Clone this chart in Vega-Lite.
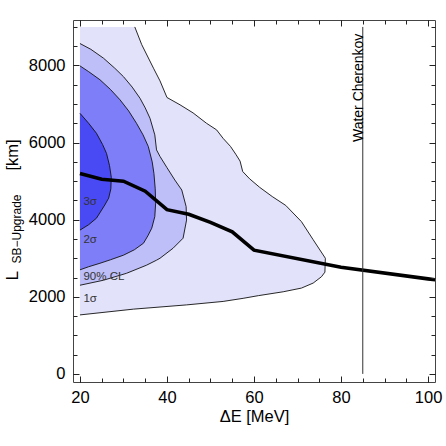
{
  "$schema": "https://vega.github.io/schema/vega-lite/v6.json",
  "width": 362,
  "height": 362,
  "autosize": "none",
  "padding": {"left": 73, "top": 20, "right": 11, "bottom": 64},
  "config": {
    "view": {"stroke": "#444", "strokeWidth": 1},
    "font": "Liberation Sans",
    "axis": {"grid": false, "domain": false, "labelColor": "#000", "titleColor": "#000", "tickColor": "#222", "tickWidth": 1, "titleFontWeight": "normal", "labelFont": "Liberation Sans", "titleFont": "Liberation Sans"}
  },
  "datasets": {
    "s1": [{"x":20,"y":1530},{"x":32.3,"y":1680},{"x":44.5,"y":1790},{"x":52.9,"y":1880},{"x":57.5,"y":1960},{"x":61,"y":2030},{"x":66.7,"y":2130},{"x":70.9,"y":2226},{"x":73.6,"y":2356},{"x":75.5,"y":2520},{"x":76.3,"y":2640},{"x":76.4,"y":3000},{"x":73.6,"y":3480},{"x":70.9,"y":3950},{"x":67.3,"y":4370},{"x":64.2,"y":4600},{"x":61.3,"y":4840},{"x":59,"y":5060},{"x":57.4,"y":5250},{"x":56.8,"y":5520},{"x":55.8,"y":5700},{"x":54.6,"y":5900},{"x":52.9,"y":6110},{"x":51.4,"y":6330},{"x":49.1,"y":6500},{"x":46,"y":6770},{"x":43,"y":6980},{"x":40,"y":7170},{"x":38.4,"y":7600},{"x":36.9,"y":7930},{"x":34.2,"y":8540},{"x":32.6,"y":9000}],
    "c90": [{"x":20,"y":2300},{"x":25.4,"y":2430},{"x":30.7,"y":2610},{"x":35.3,"y":2820},{"x":37.6,"y":2950},{"x":38.4,"y":3000},{"x":41.4,"y":3260},{"x":43.7,"y":3520},{"x":44.5,"y":3990},{"x":44.4,"y":4340},{"x":43.4,"y":4770},{"x":41.8,"y":5030},{"x":40,"y":5350},{"x":38.4,"y":5640},{"x":37.6,"y":5810},{"x":37.2,"y":6200},{"x":36.1,"y":6630},{"x":35,"y":6900},{"x":33.8,"y":7150},{"x":32,"y":7440},{"x":30,"y":7710},{"x":28,"y":7930},{"x":25.4,"y":8190},{"x":22.5,"y":8420},{"x":20,"y":8570}],
    "s2": [{"x":20,"y":2700},{"x":22,"y":2780},{"x":24.6,"y":2870},{"x":27,"y":2960},{"x":30,"y":3080},{"x":32.5,"y":3220},{"x":34.6,"y":3390},{"x":35.6,"y":3580},{"x":36.5,"y":3780},{"x":37.2,"y":4080},{"x":37.4,"y":4430},{"x":37.3,"y":4800},{"x":37,"y":5200},{"x":36.6,"y":5500},{"x":35.7,"y":5900},{"x":34.5,"y":6200},{"x":33,"y":6500},{"x":31.2,"y":6820},{"x":29.2,"y":7110},{"x":27,"y":7380},{"x":24.6,"y":7630},{"x":22,"y":7840},{"x":20,"y":7990}],
    "s3": [{"x":20,"y":3730},{"x":22,"y":3870},{"x":23.8,"y":4040},{"x":25.7,"y":4380},{"x":26.6,"y":4560},{"x":27.1,"y":4800},{"x":27.2,"y":5100},{"x":26.8,"y":5400},{"x":26.1,"y":5720},{"x":25.2,"y":5950},{"x":23.8,"y":6240},{"x":22,"y":6500},{"x":20,"y":6760}],
    "curve": [{"x":20,"y":5200},{"x":25,"y":5050},{"x":30,"y":5000},{"x":35,"y":4740},{"x":40,"y":4260},{"x":45,"y":4140},{"x":50,"y":3930},{"x":55,"y":3685},{"x":60,"y":3210},{"x":80,"y":2765},{"x":100,"y":2465},{"x":102,"y":2435}],
    "labels": [{"x":20.8,"y":4470,"t":"3σ"},{"x":20.8,"y":3480,"t":"2σ"},{"x":20.8,"y":2520,"t":"90% CL"},{"x":20.8,"y":1930,"t":"1σ"}]
  },
  "resolve": {"axis": {"x": "independent", "y": "independent"}},
  "layer": [
    {
      "data": {"name": "s1"},
      "mark": {"type": "area", "orient": "horizontal", "color": "#e2e2fb"},
      "encoding": {
        "y": {"field": "y", "type": "quantitative", "scale": {"domain": [-210, 9180], "nice": false, "zero": false},
              "axis": {"orient": "left", "zindex": 3, "values": [0, 2000, 4000, 6000, 8000], "format": "d", "ticks": false, "labelFontSize": 16.5, "labelPadding": 8, "title": "L", "titleFontSize": 17, "titleAngle": -90, "titleX": -56, "titleY": 260, "titleAlign": "left", "titleBaseline": "alphabetic"}},
        "x": {"field": "x", "type": "quantitative", "stack": null, "scale": {"domain": [18.4, 101.6], "nice": false, "zero": false},
              "axis": {"orient": "bottom", "zindex": 3, "values": [20, 40, 60, 80, 100], "format": "d", "ticks": false, "labelFontSize": 16.5, "labelBaseline": "alphabetic", "labelPadding": 20, "title": "ΔE [MeV]", "titleFontSize": 16.5, "titleX": 181, "titleY": 39, "titleAlign": "center", "titleBaseline": "alphabetic"}},
        "x2": {"datum": 20}
      }
    },
    {
      "data": {"name": "c90"},
      "mark": {"type": "area", "orient": "horizontal", "color": "#bebef8"},
      "encoding": {
        "y": {"field": "y", "type": "quantitative", "scale": {"domain": [-210, 9180], "nice": false, "zero": false},
              "axis": {"orient": "left", "zindex": 3, "offset": -6, "values": [0, 2000, 4000, 6000, 8000], "labels": false, "ticks": true, "tickSize": 6, "title": null}},
        "x": {"field": "x", "type": "quantitative", "stack": null, "scale": {"domain": [18.4, 101.6], "nice": false, "zero": false},
              "axis": {"orient": "bottom", "zindex": 3, "offset": -6, "values": [20, 40, 60, 80, 100], "labels": false, "ticks": true, "tickSize": 6, "title": null}},
        "x2": {"datum": 20}
      }
    },
    {
      "data": {"name": "s2"},
      "mark": {"type": "area", "orient": "horizontal", "color": "#7e7ef8"},
      "encoding": {
        "y": {"field": "y", "type": "quantitative", "scale": {"domain": [-210, 9180], "nice": false, "zero": false},
              "axis": {"orient": "left", "zindex": 3, "offset": -4, "values": [0,500,1000,1500,2000,2500,3000,3500,4000,4500,5000,5500,6000,6500,7000,7500,8000,8500,9000], "labels": false, "ticks": true, "tickSize": 4, "title": null}},
        "x": {"field": "x", "type": "quantitative", "stack": null, "scale": {"domain": [18.4, 101.6], "nice": false, "zero": false},
              "axis": {"orient": "bottom", "zindex": 3, "offset": -4, "values": [20,25,30,35,40,45,50,55,60,65,70,75,80,85,90,95,100], "labels": false, "ticks": true, "tickSize": 4, "title": null}},
        "x2": {"datum": 20}
      }
    },
    {
      "data": {"name": "s3"},
      "mark": {"type": "area", "orient": "horizontal", "color": "#4a4af5"},
      "encoding": {
        "y": {"field": "y", "type": "quantitative", "scale": {"domain": [-210, 9180], "nice": false, "zero": false},
              "axis": {"orient": "right", "zindex": 3, "offset": -6, "values": [0, 2000, 4000, 6000, 8000], "labels": false, "ticks": true, "tickSize": 6, "title": null}},
        "x": {"field": "x", "type": "quantitative", "stack": null, "scale": {"domain": [18.4, 101.6], "nice": false, "zero": false},
              "axis": {"orient": "top", "zindex": 3, "offset": -6, "values": [20, 40, 60, 80, 100], "labels": false, "ticks": true, "tickSize": 6, "title": null}},
        "x2": {"datum": 20}
      }
    },
    {
      "data": {"name": "s1"},
      "mark": {"type": "line", "color": "#111", "strokeWidth": 0.9},
      "encoding": {
        "y": {"field": "y", "type": "quantitative", "scale": {"domain": [-210, 9180], "nice": false, "zero": false},
              "axis": {"orient": "right", "zindex": 3, "offset": -4, "values": [0,500,1000,1500,2000,2500,3000,3500,4000,4500,5000,5500,6000,6500,7000,7500,8000,8500,9000], "labels": false, "ticks": true, "tickSize": 4, "title": null}},
        "x": {"field": "x", "type": "quantitative", "scale": {"domain": [18.4, 101.6], "nice": false, "zero": false},
              "axis": {"orient": "top", "zindex": 3, "offset": -4, "values": [20,25,30,35,40,45,50,55,60,65,70,75,80,85,90,95,100], "labels": false, "ticks": true, "tickSize": 4, "title": null}},
        "order": {"field": "y", "type": "quantitative"}
      }
    },
    {
      "data": {"name": "c90"},
      "mark": {"type": "line", "color": "#111", "strokeWidth": 0.9},
      "encoding": {
        "y": {"field": "y", "type": "quantitative", "scale": {"domain": [-210, 9180], "nice": false, "zero": false}, "axis": null},
        "x": {"field": "x", "type": "quantitative", "scale": {"domain": [18.4, 101.6], "nice": false, "zero": false}, "axis": null},
        "order": {"field": "y", "type": "quantitative"}
      }
    },
    {
      "data": {"name": "s2"},
      "mark": {"type": "line", "color": "#111", "strokeWidth": 0.9},
      "encoding": {
        "y": {"field": "y", "type": "quantitative", "scale": {"domain": [-210, 9180], "nice": false, "zero": false}, "axis": null},
        "x": {"field": "x", "type": "quantitative", "scale": {"domain": [18.4, 101.6], "nice": false, "zero": false}, "axis": null},
        "order": {"field": "y", "type": "quantitative"}
      }
    },
    {
      "data": {"name": "s3"},
      "mark": {"type": "line", "color": "#111", "strokeWidth": 0.9},
      "encoding": {
        "y": {"field": "y", "type": "quantitative", "scale": {"domain": [-210, 9180], "nice": false, "zero": false}, "axis": null},
        "x": {"field": "x", "type": "quantitative", "scale": {"domain": [18.4, 101.6], "nice": false, "zero": false}, "axis": null},
        "order": {"field": "y", "type": "quantitative"}
      }
    },
    {
      "data": {"name": "curve"},
      "mark": {"type": "line", "color": "#000", "strokeWidth": 3.6, "clip": true},
      "encoding": {
        "y": {"field": "y", "type": "quantitative", "scale": {"domain": [-210, 9180], "nice": false, "zero": false},
              "axis": {"orient": "left", "labels": false, "ticks": false, "title": "SB−Upgrade", "titleFontSize": 12, "titleAngle": -90, "titleX": -53, "titleY": 243, "titleAlign": "left", "titleBaseline": "alphabetic"}},
        "x": {"field": "x", "type": "quantitative", "scale": {"domain": [18.4, 101.6], "nice": false, "zero": false}, "axis": null}
      }
    },
    {
      "data": {"values": [{}]},
      "mark": {"type": "rule", "color": "#333", "strokeWidth": 1},
      "encoding": {
        "x": {"datum": 85, "type": "quantitative", "scale": {"domain": [18.4, 101.6], "nice": false, "zero": false}, "axis": null},
        "y": {"datum": 0, "type": "quantitative", "scale": {"domain": [-210, 9180], "nice": false, "zero": false}, "axis": null},
        "y2": {"datum": 9000}
      }
    },
    {
      "data": {"name": "labels"},
      "mark": {"type": "text", "align": "left", "baseline": "middle", "fontSize": 11.5, "color": "#333"},
      "encoding": {
        "y": {"field": "y", "type": "quantitative", "scale": {"domain": [-210, 9180], "nice": false, "zero": false},
              "axis": {"orient": "left", "labels": false, "ticks": false, "title": "[km]", "titleFontSize": 16.5, "titleAngle": -90, "titleX": -56, "titleY": 150, "titleAlign": "left", "titleBaseline": "alphabetic"}},
        "x": {"field": "x", "type": "quantitative", "scale": {"domain": [18.4, 101.6], "nice": false, "zero": false}, "axis": null},
        "text": {"field": "t"}
      }
    },
    {
      "data": {"values": [{"t": "Water Cherenkov"}]},
      "mark": {"type": "text", "angle": 270, "align": "right", "baseline": "alphabetic", "fontSize": 14, "dx": -4, "color": "#000"},
      "encoding": {
        "x": {"datum": 85, "type": "quantitative", "scale": {"domain": [18.4, 101.6], "nice": false, "zero": false}, "axis": null},
        "y": {"datum": 8930, "type": "quantitative", "scale": {"domain": [-210, 9180], "nice": false, "zero": false}, "axis": null},
        "text": {"field": "t"}
      }
    }
  ]
}
